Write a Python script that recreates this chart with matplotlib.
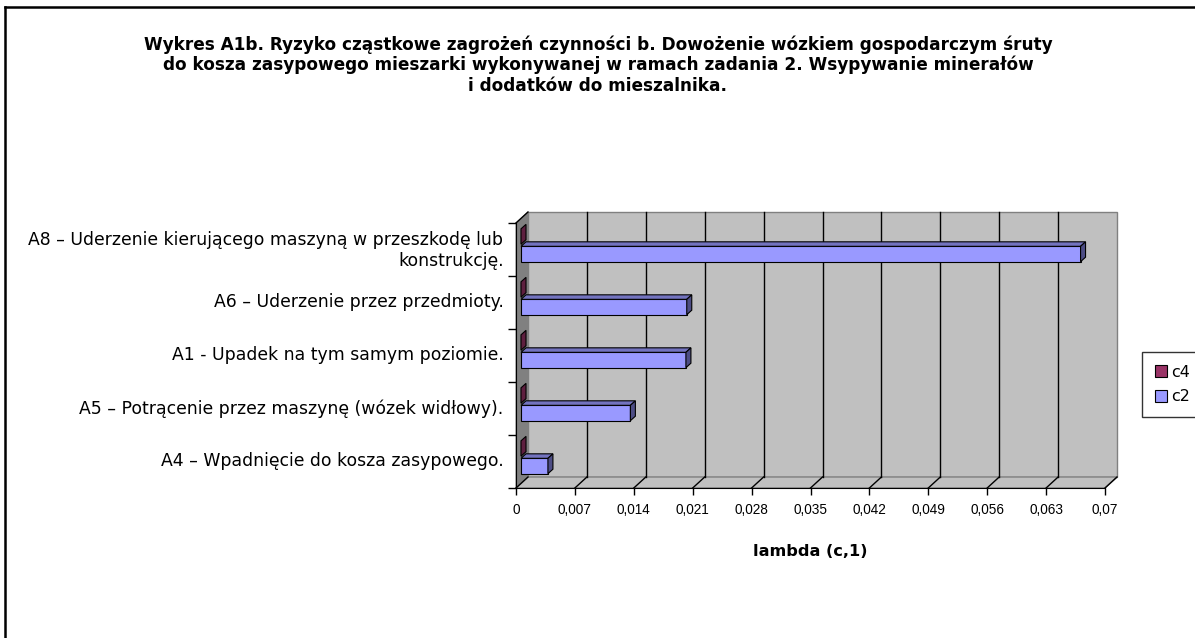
import numpy as np
import matplotlib
matplotlib.use("Agg")
import matplotlib.pyplot as plt
from matplotlib.patches import Polygon, Patch
from matplotlib.lines import Line2D

plt.rcParams['font.family'] = ['DejaVu Sans']

# ---- data ----
categories = [
    "A4 – Wpadnięcie do kosza zasypowego.",
    "A5 – Potrącenie przez maszynę (wózek widłowy).",
    "A1 - Upadek na tym samym poziomie.",
    "A6 – Uderzenie przez przedmioty.",
    "A8 – Uderzenie kierującego maszyną w przeszkodę lub\nkonstrukcję.",
]
c2_values = [0.0032, 0.0130, 0.0196, 0.0197, 0.0665]
c4_values = [0.0, 0.0, 0.0, 0.0, 0.0]
series_names = ["c4", "c2"]
x_max = 0.07
x_step = 0.007
title = ("Wykres A1b. Ryzyko cząstkowe zagrożeń czynności b. Dowożenie wózkiem gospodarczym śruty\n"
         "do kosza zasypowego mieszarki wykonywanej w ramach zadania 2. Wsypywanie minerałów\n"
         "i dodatków do mieszalnika.")
xlabel = "lambda (c,1)"

# ---- layout (pixels) ----
W, H = 1195, 638
fig = plt.figure(figsize=(W / 100, H / 100), dpi=100)
fx0, fx1 = 516, 1105
fy0, fy1 = 223, 488
ax = fig.add_axes([fx0 / W, 1 - fy1 / H, (fx1 - fx0) / W, (fy1 - fy0) / H])
n = len(categories)
ax.set_xlim(0, x_max)
ax.set_ylim(0, n)
ax.set_facecolor("none")

sx = x_max / (fx1 - fx0)   # data per px in x
sy = n / (fy1 - fy0)       # data per px in y
DX, DY = 12, 11            # full depth offset (px)

# back wall
ax.add_patch(Polygon([(DX * sx, DY * sy), (x_max + DX * sx, DY * sy),
                      (x_max + DX * sx, n + DY * sy), (DX * sx, n + DY * sy)],
                     closed=True, facecolor="#C0C0C0", edgecolor="#808080",
                     lw=1, zorder=0, clip_on=False))
# left wall
ax.add_patch(Polygon([(0, 0), (DX * sx, DY * sy), (DX * sx, n + DY * sy), (0, n)],
                     closed=True, facecolor="#808080", edgecolor="#808080",
                     lw=0.8, zorder=0.5, clip_on=False))
# floor
ax.add_patch(Polygon([(0, 0), (x_max, 0), (x_max + DX * sx, DY * sy), (DX * sx, DY * sy)],
                     closed=True, facecolor="#C0C0C0", edgecolor="#808080",
                     lw=1, zorder=0.5, clip_on=False))
ticks = np.arange(0, x_max + x_step / 2, x_step)
for t in ticks:
    if 0 < t < x_max - 1e-9:
        ax.plot([t + DX * sx, t + DX * sx], [DY * sy, n + DY * sy], color="black",
                lw=1, zorder=0.6, clip_on=False)
    ax.plot([t, t + DX * sx], [0, DY * sy], color="black", lw=1, zorder=0.6,
            clip_on=False)
ax.plot([0, DX * sx], [n, n + DY * sy], color="black", lw=1, clip_on=False, zorder=0.7)

# bars
F0x, F0y = 5, 4.5
B0x, B0y = 10, 9
bar_h = 0.29
series = [(c2_values, 0.33, "#9999FF", "#7373BF", "#4D4D85"),
          (c4_values, 0.66, "#993366", "#7A2952", "#5E1F3F")]
y = np.arange(n)
for vals, off, cf, ct, cs in series:
    centers = y + off + F0y * sy
    ax.barh(centers, vals, height=bar_h, left=F0x * sx, color=cf,
            edgecolor="black", lw=0.8, zorder=2)
    for i, v in enumerate(vals):
        bot = y[i] + off - bar_h / 2
        top = y[i] + off + bar_h / 2
        if v > 0:
            ax.add_patch(Polygon([(F0x * sx, top + F0y * sy), (F0x * sx + v, top + F0y * sy),
                                  (B0x * sx + v, top + B0y * sy), (B0x * sx, top + B0y * sy)],
                                 closed=True, facecolor=ct, edgecolor="black", lw=0.8,
                                 zorder=2, clip_on=False))
        ax.add_patch(Polygon([(F0x * sx + v, bot + F0y * sy), (F0x * sx + v, top + F0y * sy),
                              (B0x * sx + v, top + B0y * sy), (B0x * sx + v, bot + B0y * sy)],
                             closed=True, facecolor=cs, edgecolor="black", lw=0.8,
                             zorder=2, clip_on=False))

# axes styling
for s in ["top", "right"]:
    ax.spines[s].set_visible(False)
for s in ["bottom", "left"]:
    ax.spines[s].set_color("black")
    ax.spines[s].set_zorder(3)

def fmt(v):
    s = f"{v:.3f}".rstrip("0").rstrip(".")
    return s.replace(".", ",")

ax.set_xticks(ticks)
ax.set_xticklabels([fmt(t) for t in ticks], fontsize=9.8, family="Liberation Sans")
ax.tick_params(axis="x", direction="out", length=5, width=1, pad=6)
ax.set_yticks(np.arange(n + 1))
ax.set_yticklabels([""] * (n + 1))
ax.tick_params(axis="y", which="major", direction="out", length=6, width=1)
ax.set_yticks(y + 0.54, minor=True)
ax.set_yticklabels(categories, minor=True, fontsize=12.4, ha="right",
                   multialignment="right", linespacing=1.2)
ax.tick_params(axis="y", which="minor", length=0, pad=9)
ax.set_xlabel(xlabel, fontsize=11.6, fontweight="bold", labelpad=19)

# title
fig.text(598 / W, 1 - 35 / H, title, ha="center", va="top", fontsize=12.2,
         fontweight="bold", linespacing=1.17)

# legend
handles = [Patch(facecolor="#993366", edgecolor="black", lw=0.8),
           Patch(facecolor="#9999FF", edgecolor="black", lw=0.8)]
leg = fig.legend(handles, series_names, loc="upper left",
                 bbox_to_anchor=(1142 / W, 1 - 352 / H), fontsize=11.5,
                 frameon=True, fancybox=False, shadow=False,
                 handlelength=0.75, handleheight=0.75, handletextpad=0.3,
                 borderpad=0.8, labelspacing=0.6, borderaxespad=0)
leg.get_frame().set_edgecolor("black")
leg.get_frame().set_linewidth(1)

# figure border (left + top)
fig.add_artist(Line2D([5 / W, 5 / W], [0, 1 - 7 / H], color="black", lw=1.8,
                      transform=fig.transFigure))
fig.add_artist(Line2D([5 / W, 1], [1 - 7 / H, 1 - 7 / H], color="black", lw=1.8,
                      transform=fig.transFigure))

fig.savefig("out.png", dpi=100)
